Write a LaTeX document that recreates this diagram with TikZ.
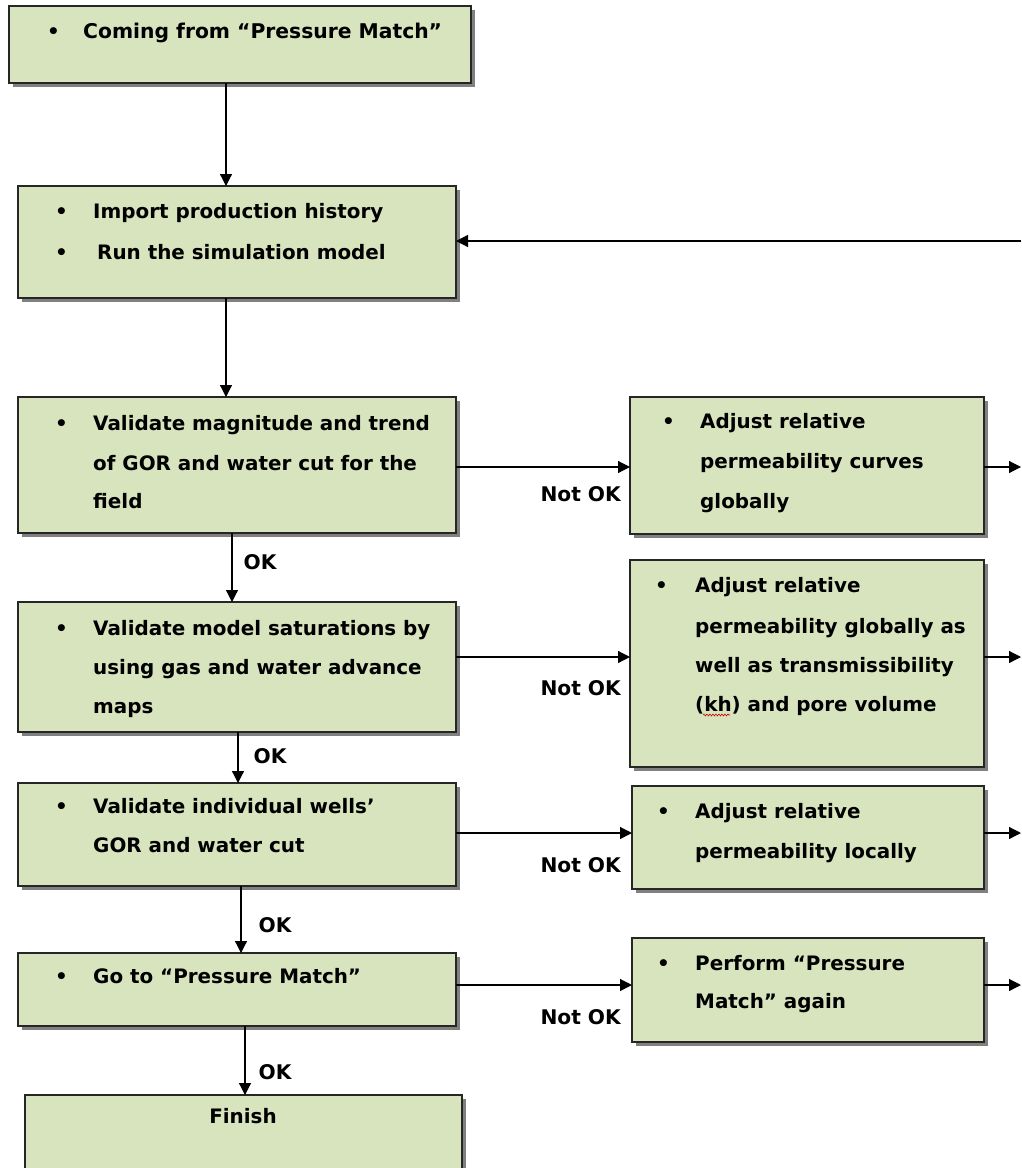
\documentclass[tikz,border=0pt]{standalone}
\usepackage{fontspec}
\setmainfont{DejaVu Sans}
\usetikzlibrary{shadows,arrows.meta,decorations.pathmorphing}
\definecolor{boxfill}{HTML}{D7E4BD}
\definecolor{boxline}{HTML}{262626}
\begin{document}
\begin{tikzpicture}[x=1pt,y=-1pt,
 box/.style={draw=boxline, line width=1.3pt, fill=boxfill, inner sep=0pt, outer sep=0pt,
   drop shadow={shadow xshift=4pt, shadow yshift=-4pt, fill=black!50, opacity=1}},
 txt/.style={anchor=base west, inner sep=0pt, font=\fontsize{19.9}{23}\selectfont\bfseries},
 lblr/.style={anchor=base east, inner sep=0pt, font=\fontsize{20.2}{23}\selectfont\bfseries},
 arr/.style={line width=1.2pt, draw=black, -{Triangle[length=12pt,width=12pt]}},
 ln/.style={line width=1.2pt, draw=black}]
\useasboundingbox (0,0) rectangle (1021,1168);
\clip (0,0) rectangle (1021,1168);
\fill[white] (0,0) rectangle (1021,1168);

% left column boxes
\node[box, minimum width=462pt, minimum height=77pt] (b1) at (240,44.5) {};
\node[box, minimum width=438pt, minimum height=112pt] (b2) at (237,242) {};
\node[box, minimum width=438pt, minimum height=136pt] (b3) at (237,465) {};
\node[box, minimum width=438pt, minimum height=130pt] (b4) at (237,667) {};
\node[box, minimum width=438pt, minimum height=103pt] (b5) at (237,834.5) {};
\node[box, minimum width=438pt, minimum height=73pt] (b6) at (237,989.5) {};
\node[box, minimum width=437pt, minimum height=100pt] (b7) at (243.5,1145) {};
% right column boxes
\node[box, minimum width=354pt, minimum height=137pt] (r1) at (807,465.5) {};
\node[box, minimum width=354pt, minimum height=207pt] (r2) at (807,663.5) {};
\node[box, minimum width=352pt, minimum height=103pt] (r3) at (808,837.5) {};
\node[box, minimum width=352pt, minimum height=104pt] (r4) at (808,990) {};

% texts
\node[txt] (t1b) at (47,38) {•};
\node[txt, font=\fontsize{20.3}{23}\selectfont\bfseries] (t1) at (83,38) {Coming from “Pressure Match”};
\node[txt] (t2b) at (55,218) {•};
\node[txt] (t2a) at (93,218) {Import production history};
\node[txt] (t2c) at (55,259) {•};
\node[txt] (t2d) at (97,259) {Run the simulation model};
\node[txt] (t3b) at (55,430) {•};
\node[txt] (t3a) at (93,430) {Validate magnitude and trend};
\node[txt] (t3c) at (93,470) {of GOR and water cut for the};
\node[txt] (t3d) at (93,508) {field};
\node[txt] (t4b) at (55,635) {•};
\node[txt] (t4a) at (93,635) {Validate model saturations by};
\node[txt] (t4c) at (93,674) {using gas and water advance};
\node[txt] (t4d) at (93,713) {maps};
\node[txt] (t5b) at (55,813) {•};
\node[txt] (t5a) at (93,813) {Validate individual wells’};
\node[txt] (t5c) at (93,852) {GOR and water cut};
\node[txt] (t6b) at (55,983) {•};
\node[txt] (t6a) at (93,983) {Go to “Pressure Match”};
\node[txt, anchor=base] (t7) at (243,1123) {Finish};

\node[txt] (u1b) at (662,428) {•};
\node[txt] (u1a) at (700,428) {Adjust relative};
\node[txt] (u1c) at (700,468) {permeability curves};
\node[txt] (u1d) at (700,508) {globally};
\node[txt] (u2b) at (655,592) {•};
\node[txt] (u2a) at (695,592) {Adjust relative};
\node[txt] (u2c) at (695,633) {permeability globally as};
\node[txt] (u2d) at (695,672) {well as transmissibility};
\node[txt] (u2e) at (695,711) {(kh) and pore volume};
\node[txt] (u3b) at (657,818) {•};
\node[txt] (u3a) at (695,818) {Adjust relative};
\node[txt] (u3c) at (695,858) {permeability locally};
\node[txt] (u4b) at (657,970) {•};
\node[txt] (u4a) at (695,970) {Perform “Pressure};
\node[txt] (u4c) at (695,1008) {Match” again};
\draw[red!80!black, line width=0.6pt, decorate, decoration={snake, amplitude=0.9pt, segment length=3pt}] (703,715) -- (730,715);

% helper coordinates
\coordinate (x1) at (226,0);
\coordinate (x2) at (226,0);
\coordinate (x3) at (232,0);
\coordinate (x4) at (238,0);
\coordinate (x5) at (241,0);
\coordinate (x6) at (245,0);
\coordinate (h3) at (0,467);
\coordinate (h4) at (0,657);
\coordinate (h5) at (0,833);
\coordinate (h6) at (0,985);
\coordinate (e3) at (1021,467);
\coordinate (e4) at (1021,657);
\coordinate (e5) at (1021,833);
\coordinate (e6) at (1021,985);
\coordinate (fb) at (1021,241);

% vertical connectors
\draw[arr] (b1.south -| x1) -- (b2.north -| x1);
\draw[arr] (b2.south -| x2) -- (b3.north -| x2);
\draw[arr] (b3.south -| x3) -- node[lblr, anchor=base west, pos=0.5, xshift=11pt, yshift=-2pt] (ok1) {OK} (b4.north -| x3);
\draw[arr] (b4.south -| x4) -- node[lblr, anchor=base west, pos=0.55, xshift=15pt, yshift=-3pt] (ok2) {OK} (b5.north -| x4);
\draw[arr] (b5.south -| x5) -- node[lblr, anchor=base west, pos=0.7, xshift=17pt] (ok3) {OK} (b6.north -| x5);
\draw[arr] (b6.south -| x6) -- node[lblr, anchor=base west, pos=0.78, xshift=13pt] (ok4) {OK} (b7.north -| x6);

% horizontal connectors
\draw[arr] (b3.east |- h3) -- (r1.west |- h3);
\draw[arr] (b4.east |- h4) -- (r2.west |- h4);
\draw[arr] (b5.east |- h5) -- (r3.west |- h5);
\draw[arr] (b6.east |- h6) -- (r4.west |- h6);
\node[lblr] (n1) at (621,501) {Not OK};
\node[lblr] (n2) at (621,695) {Not OK};
\node[lblr] (n3) at (621,872) {Not OK};
\node[lblr] (n4) at (621,1024) {Not OK};

\draw[arr] (r1.east |- e3) -- (e3);
\draw[arr] (r2.east |- e4) -- (e4);
\draw[arr] (r3.east |- e5) -- (e5);
\draw[arr] (r4.east |- e6) -- (e6);

% feedback
\draw[arr] (fb) -- (b2.east |- fb);
\end{tikzpicture}
\end{document}
